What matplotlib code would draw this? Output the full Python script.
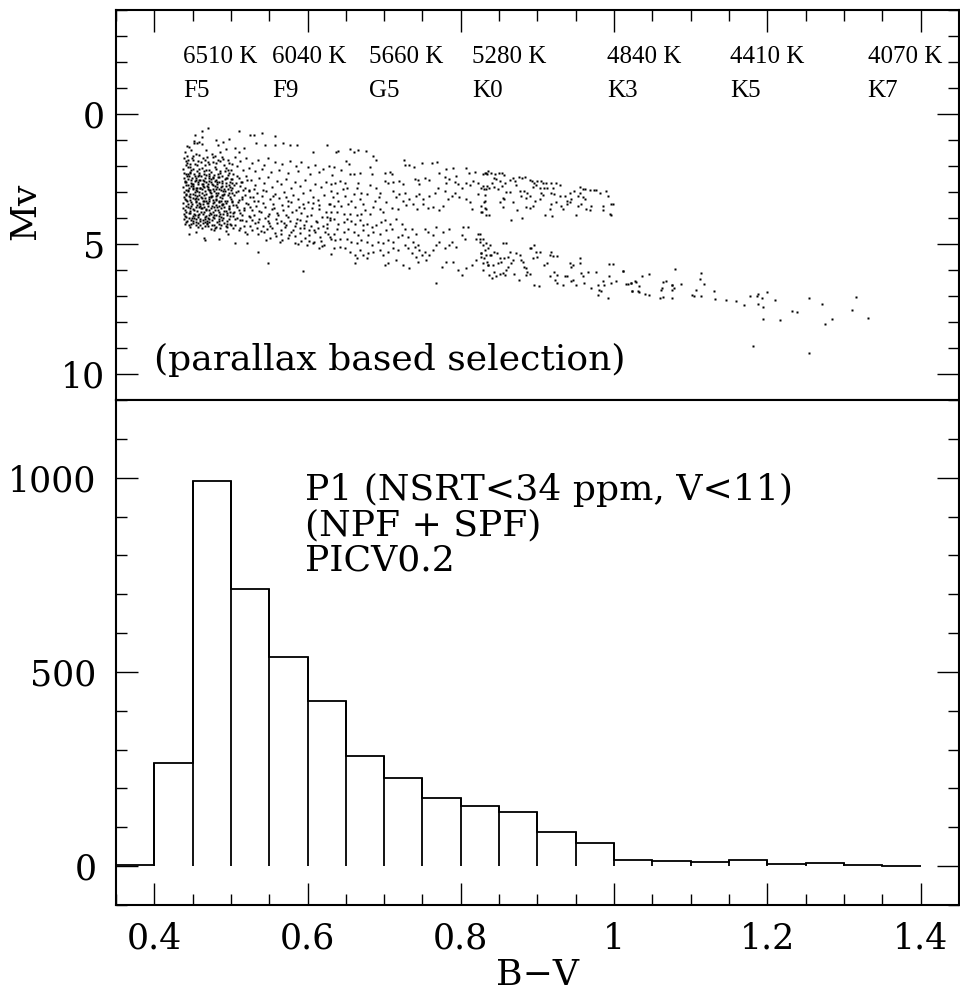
import numpy as np
import matplotlib
matplotlib.use("Agg")
import matplotlib.pyplot as plt
from matplotlib.ticker import MultipleLocator, FuncFormatter

# ---- histogram of B-V (P1 sample) ----
bin_edges = [0.35, 0.40, 0.45, 0.50, 0.55, 0.60, 0.65, 0.70, 0.75, 0.80, 0.85,
             0.90, 0.95, 1.00, 1.05, 1.10, 1.15, 1.20, 1.25, 1.30, 1.35, 1.40]
counts = [3, 265, 992, 714, 539, 425, 283, 227, 175, 155, 139,
          88, 59, 15, 14, 11, 15, 5, 7, 4, 1]

# ---- spectral type / temperature labels along the top ----
spt_bv = [0.438, 0.554, 0.680, 0.815, 0.991, 1.151, 1.331]
spt_temp = ["6510 K", "6040 K", "5660 K", "5280 K", "4840 K", "4410 K", "4070 K"]
spt_name = ["F5", "F9", "G5", "K0", "K3", "K5", "K7"]

# ---- HR diagram points (B-V, Mv) ----
top_sparse = [(0.452, 1.02), (0.462, 0.88), (0.470, 0.55), (0.445, 1.25), (0.452, 1.10),
              (0.456, 1.12), (0.462, 1.14), (0.443, 1.24), (0.480, 1.00), (0.483, 1.18),
              (0.490, 1.08), (0.498, 0.98), (0.440, 1.45), (0.448, 1.40), (0.455, 1.52),
              (0.468, 1.38), (0.475, 1.52), (0.486, 1.47), (0.494, 1.35), (0.505, 1.30),
              (0.511, 1.45), (0.511, 0.65), (0.525, 0.80), (0.530, 0.80), (0.541, 0.74),
              (0.557, 0.84), (0.517, 1.31), (0.533, 1.12), (0.545, 1.18), (0.557, 1.18),
              (0.568, 1.12), (0.577, 1.18), (0.586, 1.18), (0.607, 1.46), (0.625, 1.21),
              (0.462, 0.67), (0.453, 0.80), (0.458, 1.09)]

core = [(0.439, 1.68), (0.444, 1.75), (0.450, 1.62), (0.457, 1.80), (0.463, 1.70), (0.470, 1.85),
        (0.476, 1.66), (0.483, 1.78), (0.490, 1.72), (0.497, 1.88), (0.505, 1.65), (0.512, 1.82),
        (0.520, 1.70), (0.527, 1.90), (0.535, 1.75), (0.543, 1.96), (0.549, 1.68), (0.558, 1.84),
        (0.567, 1.92), (0.577, 1.80), (0.585, 2.00), (0.592, 1.86), (0.600, 2.05), (0.610, 1.95),
        (0.620, 2.10), (0.628, 2.00), (0.441, 1.95), (0.447, 2.05), (0.453, 1.92), (0.459, 2.12),
        (0.466, 1.98), (0.472, 2.15), (0.479, 2.02), (0.486, 2.18), (0.493, 2.06), (0.500, 2.14),
        (0.508, 2.00), (0.516, 2.16), (0.524, 2.08), (0.532, 2.20), (0.540, 2.12), (0.552, 2.22),
        (0.563, 2.15), (0.575, 2.25), (0.588, 2.18), (0.603, 2.30), (0.615, 2.22), (0.632, 2.35),
        (0.439, 2.25), (0.443, 2.38), (0.446, 2.22), (0.449, 2.45), (0.452, 2.31), (0.455, 2.52),
        (0.458, 2.27), (0.461, 2.40), (0.465, 2.58), (0.468, 2.33), (0.471, 2.47), (0.474, 2.62),
        (0.478, 2.36), (0.481, 2.55), (0.485, 2.42), (0.488, 2.66), (0.492, 2.50), (0.496, 2.35),
        (0.499, 2.60), (0.440, 2.58), (0.442, 2.72), (0.445, 2.85), (0.448, 2.64), (0.451, 2.78),
        (0.454, 2.93), (0.457, 2.70), (0.460, 2.86), (0.463, 2.75), (0.466, 2.98), (0.470, 2.80),
        (0.473, 2.92), (0.476, 2.74), (0.480, 2.88), (0.483, 3.02), (0.487, 2.82), (0.490, 2.95),
        (0.494, 2.78), (0.498, 3.05), (0.439, 3.00), (0.441, 3.12), (0.444, 2.96), (0.447, 3.20),
        (0.450, 3.06), (0.453, 3.28), (0.456, 3.14), (0.459, 3.00), (0.462, 3.24), (0.465, 3.10),
        (0.468, 3.35), (0.471, 3.18), (0.474, 3.04), (0.477, 3.30), (0.481, 3.15), (0.484, 3.40),
        (0.488, 3.22), (0.491, 3.08), (0.495, 3.33), (0.499, 3.18), (0.438, 3.42), (0.441, 3.55),
        (0.443, 3.36), (0.446, 3.62), (0.449, 3.48), (0.452, 3.70), (0.455, 3.40), (0.458, 3.58),
        (0.461, 3.75), (0.464, 3.46), (0.467, 3.64), (0.470, 3.52), (0.473, 3.80), (0.476, 3.44),
        (0.479, 3.68), (0.482, 3.56), (0.486, 3.84), (0.489, 3.50), (0.493, 3.72), (0.497, 3.60),
        (0.439, 3.86), (0.442, 3.98), (0.445, 3.80), (0.448, 4.06), (0.451, 3.92), (0.454, 4.15),
        (0.457, 3.88), (0.460, 4.02), (0.463, 4.20), (0.466, 3.95), (0.469, 4.10), (0.472, 3.90),
        (0.475, 4.25), (0.478, 4.00), (0.482, 4.15), (0.485, 3.94), (0.489, 4.08), (0.493, 4.30),
        (0.497, 4.02), (0.440, 4.22), (0.447, 4.35), (0.455, 4.28), (0.462, 4.40), (0.470, 4.32),
        (0.478, 4.45), (0.486, 4.38), (0.494, 4.50), (0.444, 2.50), (0.450, 2.90), (0.456, 3.50),
        (0.462, 3.05), (0.468, 2.62), (0.474, 3.62), (0.480, 3.25), (0.446, 3.30), (0.452, 4.00),
        (0.458, 2.55), (0.464, 3.85), (0.470, 2.68), (0.476, 3.95), (0.482, 2.70), (0.488, 3.45),
        (0.440, 3.70), (0.448, 2.78), (0.454, 3.22), (0.460, 3.45), (0.466, 4.30), (0.472, 3.28),
        (0.478, 2.95), (0.484, 3.75), (0.490, 3.85), (0.496, 2.88), (0.443, 4.10), (0.457, 4.33),
        (0.471, 4.05), (0.485, 4.22), (0.499, 3.92)]

core_extra = [(0.438, 2.10), (0.441, 2.32), (0.444, 2.05), (0.447, 2.28), (0.450, 2.12), (0.453, 2.40),
              (0.456, 2.18), (0.459, 2.35), (0.462, 2.08), (0.465, 2.30), (0.468, 2.15), (0.471, 2.38),
              (0.474, 2.22), (0.477, 2.48), (0.480, 2.12), (0.483, 2.30), (0.486, 2.25), (0.489, 2.40),
              (0.492, 2.20), (0.495, 2.45), (0.498, 2.28), (0.502, 2.50), (0.439, 2.48), (0.442, 2.62),
              (0.445, 2.40), (0.448, 2.55), (0.451, 2.68), (0.454, 2.45), (0.457, 2.62), (0.460, 2.52),
              (0.463, 2.68), (0.466, 2.48), (0.469, 2.76), (0.472, 2.56), (0.475, 2.70), (0.479, 2.58),
              (0.482, 2.82), (0.485, 2.60), (0.489, 2.76), (0.493, 2.64), (0.497, 2.72), (0.501, 2.66),
              (0.438, 2.80), (0.441, 2.92), (0.444, 2.74), (0.447, 3.08), (0.450, 2.84), (0.453, 3.00),
              (0.456, 2.86), (0.459, 3.10), (0.462, 2.90), (0.465, 2.82), (0.468, 3.06), (0.471, 2.94),
              (0.474, 3.14), (0.477, 2.88), (0.481, 3.02), (0.484, 2.90), (0.488, 3.12), (0.492, 2.98),
              (0.496, 3.10), (0.500, 2.94), (0.439, 3.20), (0.442, 3.32), (0.445, 3.14), (0.448, 3.40),
              (0.451, 3.24), (0.454, 3.36), (0.457, 3.26), (0.460, 3.52), (0.463, 3.34), (0.466, 3.22),
              (0.469, 3.44), (0.472, 3.36), (0.475, 3.54), (0.478, 3.40), (0.481, 3.30), (0.484, 3.52),
              (0.487, 3.34), (0.490, 3.48), (0.494, 3.42), (0.498, 3.52), (0.502, 3.40), (0.438, 3.62),
              (0.441, 3.76), (0.444, 3.58), (0.447, 3.82), (0.450, 3.66), (0.453, 3.88), (0.456, 3.72),
              (0.459, 3.84), (0.462, 3.60), (0.465, 3.78), (0.468, 3.92), (0.471, 3.70), (0.474, 3.86),
              (0.477, 3.76), (0.480, 3.90), (0.483, 3.68), (0.487, 3.96), (0.491, 3.74), (0.495, 3.88),
              (0.499, 3.76), (0.503, 3.94), (0.439, 4.04), (0.442, 4.16), (0.445, 4.00), (0.448, 4.22),
              (0.451, 4.10), (0.454, 4.02), (0.457, 4.18), (0.460, 4.26), (0.463, 4.08), (0.466, 4.14),
              (0.469, 4.24), (0.472, 4.16), (0.475, 4.06), (0.478, 4.28), (0.481, 4.34), (0.484, 4.10),
              (0.487, 4.26), (0.491, 4.18), (0.495, 4.36), (0.499, 4.22), (0.503, 4.40), (0.441, 1.80),
              (0.446, 1.92), (0.451, 1.78), (0.456, 1.95), (0.461, 1.84), (0.466, 1.76), (0.471, 1.94),
              (0.476, 1.86), (0.481, 1.90), (0.486, 1.82), (0.491, 1.96), (0.496, 1.78), (0.501, 1.92),
              (0.443, 1.62), (0.449, 1.70), (0.459, 1.58), (0.469, 1.66), (0.479, 1.60), (0.489, 1.64),
              (0.445, 4.60), (0.455, 4.55), (0.465, 4.75), (0.466, 4.85), (0.485, 4.80), (0.496, 4.62),
              (0.505, 4.95), (0.521, 4.98), (0.535, 5.30), (0.549, 5.74), (0.594, 6.03)]

core_fill = [(0.4395, 2.63), (0.4435, 3.47), (0.4475, 2.17), (0.4515, 3.83), (0.4555, 2.97), (0.4595, 4.11),
             (0.4635, 2.53), (0.4675, 3.69), (0.4715, 2.29), (0.4755, 3.17), (0.4795, 4.39), (0.4835, 2.41),
             (0.4875, 3.63), (0.4915, 2.87), (0.4955, 4.13), (0.4995, 3.27), (0.5035, 2.73), (0.5075, 3.57),
             (0.5115, 4.07), (0.5155, 2.93), (0.4405, 3.91), (0.4445, 2.31), (0.4485, 3.53), (0.4525, 2.57),
             (0.4565, 3.97), (0.4605, 3.21), (0.4645, 2.19), (0.4685, 4.21), (0.4725, 3.01), (0.4765, 2.43),
             (0.4805, 3.49), (0.4845, 4.03), (0.4885, 2.57), (0.4925, 3.35), (0.4965, 2.17), (0.5005, 4.27),
             (0.5045, 3.13), (0.5085, 2.39), (0.5125, 3.81), (0.5165, 4.31), (0.4415, 3.09), (0.4455, 4.27),
             (0.4495, 2.69), (0.4535, 3.13), (0.4575, 2.39), (0.4615, 3.63), (0.4655, 3.33), (0.4695, 2.87),
             (0.4735, 4.41), (0.4775, 3.57), (0.4815, 2.61), (0.4855, 3.19), (0.4895, 4.01), (0.4935, 2.47),
             (0.4975, 3.67), (0.5015, 3.03), (0.5055, 4.05), (0.5095, 3.37), (0.5135, 2.61), (0.5175, 3.71),
             (0.4425, 1.87), (0.4465, 3.73), (0.4505, 4.19), (0.4545, 2.83), (0.4585, 3.41), (0.4625, 2.71),
             (0.4665, 4.03), (0.4705, 3.43), (0.4745, 2.51), (0.4785, 3.87), (0.4825, 3.11), (0.4865, 2.93),
             (0.4905, 3.57), (0.4945, 4.23), (0.4985, 2.79), (0.5025, 3.51), (0.5065, 2.67), (0.5105, 4.45),
             (0.5145, 3.27), (0.5185, 2.85), (0.4395, 3.27), (0.4445, 2.91), (0.4495, 3.99), (0.4545, 3.59),
             (0.4595, 2.83), (0.4645, 3.57), (0.4695, 3.99), (0.4745, 3.21), (0.4795, 2.77), (0.4845, 3.33),
             (0.4895, 3.11), (0.4945, 3.79), (0.4995, 2.49), (0.5045, 3.77), (0.5095, 2.97), (0.5145, 4.09),
             (0.5195, 3.43), (0.5215, 2.55), (0.5235, 3.93), (0.5255, 3.19)]

band = [(0.503, 2.30), (0.510, 2.45), (0.515, 2.62), (0.520, 2.38), (0.526, 2.55), (0.531, 2.72),
        (0.537, 2.48), (0.543, 2.66), (0.548, 2.42), (0.554, 2.80), (0.560, 2.58), (0.566, 2.70),
        (0.572, 2.50), (0.578, 2.85), (0.584, 2.62), (0.590, 2.78), (0.597, 2.55), (0.603, 2.92),
        (0.610, 2.68), (0.617, 2.82), (0.624, 2.60), (0.630, 2.95), (0.502, 2.85), (0.507, 3.00),
        (0.512, 2.78), (0.518, 3.12), (0.523, 2.94), (0.529, 3.20), (0.534, 3.02), (0.540, 3.15),
        (0.546, 2.98), (0.551, 3.28), (0.557, 3.08), (0.563, 3.22), (0.569, 3.00), (0.575, 3.35),
        (0.581, 3.12), (0.588, 3.28), (0.594, 3.05), (0.600, 3.40), (0.607, 3.18), (0.614, 3.32),
        (0.621, 3.10), (0.628, 3.45), (0.501, 3.35), (0.506, 3.50), (0.511, 3.30), (0.517, 3.62),
        (0.522, 3.45), (0.528, 3.70), (0.533, 3.52), (0.539, 3.78), (0.545, 3.58), (0.550, 3.85),
        (0.556, 3.62), (0.562, 3.90), (0.568, 3.70), (0.574, 3.98), (0.580, 3.75), (0.586, 4.02),
        (0.592, 3.82), (0.598, 4.10), (0.605, 3.88), (0.612, 4.15), (0.619, 3.95), (0.626, 4.22),
        (0.503, 3.82), (0.508, 4.00), (0.514, 3.88), (0.520, 4.12), (0.525, 3.95), (0.531, 4.20),
        (0.537, 4.05), (0.542, 4.30), (0.548, 4.12), (0.554, 4.38), (0.560, 4.18), (0.566, 4.45),
        (0.572, 4.25), (0.578, 4.52), (0.584, 4.32), (0.590, 4.58), (0.596, 4.40), (0.602, 4.65),
        (0.609, 4.48), (0.616, 4.72), (0.623, 4.55), (0.630, 4.80), (0.505, 4.25), (0.512, 4.40),
        (0.519, 4.55), (0.527, 4.45), (0.535, 4.62), (0.543, 4.55), (0.551, 4.75), (0.559, 4.68),
        (0.567, 4.85), (0.575, 4.78), (0.583, 4.95), (0.591, 4.88), (0.599, 5.05), (0.607, 4.98),
        (0.615, 5.15), (0.622, 5.05), (0.515, 3.20), (0.535, 3.35), (0.555, 3.45), (0.575, 3.55),
        (0.595, 3.60), (0.615, 3.65), (0.525, 4.30), (0.545, 4.00), (0.565, 4.12), (0.585, 4.20),
        (0.605, 4.30), (0.625, 4.40), (0.510, 3.70), (0.530, 3.90), (0.550, 4.20), (0.570, 4.35),
        (0.590, 4.40), (0.610, 4.55)]

band_fill = [(0.5215, 4.61), (0.5245, 3.57), (0.5275, 4.07), (0.5305, 2.87), (0.5335, 4.39), (0.5365, 3.73),
             (0.5395, 4.49), (0.5425, 3.41), (0.5455, 4.83), (0.5485, 3.93), (0.5515, 4.29), (0.5545, 3.17),
             (0.5575, 4.57), (0.5605, 3.79), (0.5635, 4.93), (0.5665, 3.51), (0.5695, 4.21), (0.5725, 3.87),
             (0.5755, 4.67), (0.5785, 3.39), (0.5815, 4.45), (0.5845, 3.69), (0.5875, 5.01), (0.5905, 4.09),
             (0.5935, 3.47), (0.5965, 4.77), (0.5995, 3.93), (0.6025, 4.47), (0.6055, 3.61), (0.6085, 4.93),
             (0.6115, 4.11), (0.6145, 3.49), (0.6175, 4.87), (0.6205, 4.29), (0.6235, 3.77), (0.6265, 4.63),
             (0.6295, 4.01), (0.5235, 2.97), (0.5295, 3.33), (0.5355, 4.17), (0.5415, 2.91), (0.5475, 4.41),
             (0.5535, 3.67), (0.5595, 4.03), (0.5655, 4.61), (0.5715, 3.19), (0.5775, 4.11), (0.5835, 4.71),
             (0.5895, 3.57), (0.5955, 4.27), (0.6015, 4.87), (0.6075, 3.41), (0.6135, 4.39), (0.6195, 5.07),
             (0.6255, 3.97)]

mid_upper = [(0.637, 1.47), (0.640, 1.43), (0.656, 1.34), (0.660, 1.47), (0.666, 1.37), (0.676, 1.43),
             (0.686, 1.60), (0.690, 1.75), (0.650, 1.81), (0.654, 1.91), (0.634, 2.03), (0.644, 2.15),
             (0.726, 1.77), (0.727, 1.98), (0.733, 1.98), (0.739, 2.03), (0.750, 1.90), (0.762, 1.88),
             (0.769, 1.85), (0.781, 2.10), (0.790, 2.09), (0.807, 2.07), (0.811, 2.28), (0.819, 2.23),
             (0.829, 2.32), (0.833, 2.26), (0.836, 2.19), (0.655, 2.32), (0.660, 2.29), (0.668, 2.26),
             (0.681, 2.04), (0.684, 2.32), (0.701, 2.26), (0.707, 2.23), (0.710, 2.32), (0.701, 2.57),
             (0.705, 2.64), (0.711, 2.61), (0.720, 2.57), (0.724, 2.70), (0.740, 2.51), (0.744, 2.53),
             (0.746, 2.70), (0.753, 2.48), (0.759, 2.53), (0.772, 2.28), (0.779, 2.41), (0.781, 2.64),
             (0.785, 2.51), (0.792, 2.61), (0.794, 2.38), (0.796, 2.70), (0.801, 2.86), (0.807, 2.64),
             (0.812, 2.74), (0.816, 2.57), (0.822, 2.64), (0.827, 2.86), (0.830, 2.89), (0.834, 2.76),
             (0.642, 2.57), (0.649, 2.64), (0.636, 2.64), (0.630, 2.70), (0.646, 2.89), (0.652, 2.83),
             (0.666, 2.64), (0.665, 2.86), (0.681, 2.74), (0.690, 2.86), (0.694, 3.02), (0.693, 3.21),
             (0.677, 3.08), (0.670, 3.02), (0.668, 3.27), (0.660, 3.08), (0.657, 3.33), (0.649, 3.14),
             (0.638, 3.02), (0.633, 3.21), (0.640, 3.33), (0.629, 3.46), (0.634, 3.55), (0.644, 3.52),
             (0.653, 3.46), (0.662, 3.59), (0.673, 3.46), (0.675, 3.71), (0.686, 3.59), (0.688, 3.33),
             (0.703, 3.40), (0.712, 2.95), (0.716, 3.21), (0.720, 3.08), (0.727, 3.02), (0.733, 3.27),
             (0.741, 3.14), (0.746, 3.08), (0.751, 3.27), (0.759, 3.14), (0.766, 3.02), (0.770, 2.86),
             (0.779, 2.95), (0.783, 3.27), (0.788, 3.14), (0.792, 3.02), (0.798, 3.21), (0.807, 3.27),
             (0.812, 3.40), (0.814, 3.65), (0.822, 3.08), (0.831, 3.33), (0.833, 3.65), (0.827, 3.78),
             (0.777, 3.52), (0.772, 3.71), (0.764, 3.59), (0.757, 3.62), (0.751, 3.46), (0.743, 3.65),
             (0.738, 3.46), (0.729, 3.50), (0.725, 3.33), (0.718, 3.65), (0.710, 3.62), (0.699, 3.78),
             (0.694, 3.65), (0.681, 3.84), (0.670, 3.84), (0.664, 3.90), (0.655, 3.84), (0.647, 3.84),
             (0.638, 3.78), (0.631, 3.78)]

mid_lower = [(0.629, 4.09), (0.634, 4.03), (0.640, 4.22), (0.647, 4.16), (0.651, 4.03), (0.657, 4.13),
             (0.662, 4.22), (0.668, 4.09), (0.673, 4.28), (0.677, 4.22), (0.684, 4.35), (0.690, 4.28),
             (0.696, 4.16), (0.701, 4.09), (0.707, 4.22), (0.716, 4.03), (0.723, 4.22), (0.727, 4.41),
             (0.710, 4.41), (0.703, 4.47), (0.694, 4.60), (0.686, 4.54), (0.679, 4.66), (0.673, 4.47),
             (0.666, 4.64), (0.660, 4.54), (0.653, 4.41), (0.647, 4.54), (0.638, 4.41), (0.634, 4.60),
             (0.629, 4.73), (0.636, 4.85), (0.642, 4.79), (0.651, 4.79), (0.657, 4.92), (0.664, 4.98),
             (0.670, 4.85), (0.677, 4.92), (0.684, 5.02), (0.692, 4.92), (0.699, 4.98), (0.705, 4.85),
             (0.712, 4.92), (0.718, 4.73), (0.723, 4.66), (0.731, 4.73), (0.738, 4.92), (0.740, 5.11),
             (0.744, 5.02), (0.746, 5.23), (0.753, 5.30), (0.749, 5.42), (0.742, 5.49), (0.736, 5.36),
             (0.731, 5.17), (0.727, 5.04), (0.718, 5.23), (0.712, 5.17), (0.705, 5.30), (0.699, 5.42),
             (0.694, 5.23), (0.686, 5.30), (0.679, 5.36), (0.673, 5.42), (0.668, 5.23), (0.662, 5.42),
             (0.655, 5.30), (0.649, 5.17), (0.642, 5.11), (0.634, 5.17), (0.631, 5.40), (0.664, 5.55),
             (0.677, 5.55), (0.662, 5.74), (0.701, 5.80), (0.705, 5.74), (0.716, 5.61), (0.725, 5.80),
             (0.733, 5.93), (0.744, 5.68), (0.755, 5.61), (0.759, 5.42), (0.764, 5.23), (0.768, 5.04),
             (0.772, 4.92), (0.779, 5.17), (0.785, 5.04), (0.789, 4.92), (0.794, 5.11), (0.801, 4.66),
             (0.805, 4.79), (0.809, 4.35), (0.803, 4.35), (0.822, 4.60), (0.820, 4.79), (0.825, 4.92),
             (0.829, 4.79), (0.833, 4.98), (0.835, 5.17), (0.838, 5.42), (0.827, 5.36), (0.820, 5.61),
             (0.814, 5.80), (0.807, 5.93), (0.801, 6.18), (0.796, 5.99), (0.790, 5.68), (0.781, 5.68),
             (0.775, 5.87), (0.768, 6.50), (0.829, 5.99), (0.835, 5.80), (0.785, 4.41), (0.777, 4.54),
             (0.764, 4.66), (0.757, 4.54), (0.768, 4.35), (0.753, 4.41), (0.742, 4.60), (0.736, 4.41)]

giants = [(0.832, 2.26), (0.834, 2.32), (0.840, 2.26), (0.845, 2.29), (0.850, 2.28), (0.854, 2.28),
          (0.856, 2.36), (0.843, 2.47), (0.846, 2.51), (0.851, 2.57), (0.841, 2.64), (0.858, 2.64),
          (0.864, 2.53), (0.868, 2.48), (0.871, 2.57), (0.876, 2.42), (0.880, 2.45), (0.884, 2.42),
          (0.890, 2.53), (0.893, 2.57), (0.896, 2.64), (0.899, 2.57), (0.905, 2.57), (0.907, 2.64),
          (0.911, 2.66), (0.918, 2.64), (0.924, 2.66), (0.930, 2.73), (0.894, 2.79), (0.898, 2.74),
          (0.903, 2.83), (0.909, 2.86), (0.913, 2.83), (0.920, 2.83), (0.829, 2.76), (0.833, 2.89),
          (0.837, 2.86), (0.844, 2.80), (0.848, 2.89), (0.854, 2.76), (0.859, 2.99), (0.864, 2.99),
          (0.872, 2.74), (0.877, 2.95), (0.883, 2.95), (0.887, 3.02), (0.890, 3.14), (0.885, 3.24),
          (0.879, 3.14), (0.868, 3.37), (0.855, 3.24), (0.851, 3.40), (0.857, 3.27), (0.831, 3.12),
          (0.830, 3.37), (0.827, 3.52), (0.831, 3.63), (0.828, 3.75), (0.833, 3.88), (0.837, 3.88),
          (0.855, 3.59), (0.866, 4.09), (0.880, 4.00), (0.873, 3.69), (0.885, 3.59), (0.890, 3.63),
          (0.894, 3.52), (0.897, 3.33), (0.903, 3.27), (0.905, 3.02), (0.907, 3.12), (0.918, 3.02),
          (0.922, 3.08), (0.924, 3.40), (0.918, 3.46), (0.916, 3.65), (0.910, 3.87), (0.919, 3.94),
          (0.933, 3.65), (0.936, 3.14), (0.938, 3.33), (0.944, 3.27), (0.942, 3.02), (0.948, 2.95),
          (0.955, 2.80), (0.959, 2.89), (0.962, 2.89), (0.968, 2.92), (0.974, 2.92), (0.977, 2.92),
          (0.982, 3.02), (0.989, 2.95), (0.992, 3.14), (0.955, 3.02), (0.953, 3.17), (0.959, 3.21),
          (0.962, 3.27), (0.957, 3.46), (0.953, 3.55), (0.951, 3.90), (0.963, 3.65), (0.970, 3.52),
          (0.969, 3.68), (0.986, 3.55), (0.985, 3.71), (0.996, 3.46), (0.999, 3.46), (0.995, 3.84),
          (0.996, 3.87), (0.929, 3.14), (0.931, 3.52), (0.938, 3.46), (0.943, 3.37)]

k_dwarfs = [(0.825, 4.60), (0.825, 4.79), (0.829, 5.05), (0.831, 5.24), (0.827, 5.36), (0.826, 5.49),
            (0.830, 5.55), (0.833, 5.43), (0.834, 5.68), (0.829, 5.74), (0.835, 5.80), (0.840, 5.43),
            (0.838, 5.05), (0.844, 5.30), (0.847, 5.36), (0.842, 5.80), (0.848, 5.74), (0.851, 5.55),
            (0.853, 5.68), (0.855, 4.98), (0.859, 4.96), (0.856, 5.55), (0.861, 5.49), (0.864, 5.30),
            (0.866, 5.74), (0.868, 5.61), (0.861, 5.87), (0.859, 5.99), (0.851, 6.16), (0.855, 6.12),
            (0.858, 6.18), (0.844, 6.08), (0.846, 6.25), (0.841, 6.31), (0.837, 6.18), (0.870, 6.15),
            (0.872, 5.36), (0.877, 5.43), (0.879, 5.61), (0.881, 5.68), (0.883, 5.87), (0.885, 5.93),
            (0.887, 6.08), (0.890, 6.16), (0.885, 6.18), (0.876, 6.37), (0.890, 5.15), (0.892, 5.17),
            (0.896, 5.05), (0.898, 5.30), (0.903, 5.30), (0.900, 5.49), (0.894, 5.55), (0.896, 6.57),
            (0.902, 6.63), (0.909, 5.80), (0.913, 5.74), (0.916, 5.43), (0.921, 5.45), (0.926, 5.45),
            (0.918, 5.30), (0.916, 6.25), (0.922, 6.06), (0.925, 6.18), (0.923, 6.37), (0.926, 6.50),
            (0.933, 6.57), (0.936, 6.25), (0.939, 6.25), (0.942, 5.74), (0.944, 5.87), (0.946, 5.80),
            (0.944, 6.44), (0.947, 6.37), (0.950, 6.57), (0.955, 5.55), (0.955, 5.74), (0.957, 6.12),
            (0.959, 6.25), (0.961, 6.50), (0.966, 6.06), (0.976, 6.08), (0.970, 6.69), (0.979, 6.57),
            (0.981, 6.76), (0.983, 6.82), (0.985, 6.44), (0.987, 6.57), (0.992, 7.07), (0.994, 6.25),
            (0.996, 6.50), (0.998, 5.78), (1.002, 6.41), (0.994, 5.78), (1.012, 6.03), (1.018, 6.54),
            (1.022, 6.50), (1.023, 6.82), (1.028, 6.44), (1.031, 6.82), (0.979, 6.95)]

red_tail = [(1.012, 6.02), (1.016, 6.54), (1.022, 6.49), (1.029, 6.45), (1.032, 6.62), (1.023, 6.82),
            (1.032, 6.83), (1.037, 6.24), (1.046, 6.17), (1.040, 6.92), (1.045, 6.95), (1.080, 5.96),
            (1.064, 6.48), (1.068, 6.43), (1.062, 6.69), (1.061, 6.76), (1.075, 6.58), (1.076, 6.59),
            (1.078, 6.70), (1.075, 6.77), (1.060, 7.08), (1.064, 7.03), (1.076, 7.07), (1.087, 6.53),
            (1.113, 6.11), (1.112, 6.34), (1.117, 6.53), (1.107, 6.76), (1.102, 6.98), (1.105, 7.01),
            (1.113, 7.01), (1.130, 6.82), (1.132, 7.11), (1.146, 7.16), (1.159, 7.19), (1.169, 7.33),
            (1.177, 7.01), (1.187, 7.01), (1.188, 6.93), (1.193, 7.08), (1.200, 6.83), (1.188, 7.29),
            (1.195, 7.43), (1.210, 7.16), (1.194, 7.90), (1.217, 7.91), (1.232, 7.57), (1.239, 7.60),
            (1.255, 7.07), (1.271, 7.29), (1.275, 8.07), (1.285, 7.87), (1.311, 7.54), (1.316, 7.05),
            (1.332, 7.83), (1.182, 8.94), (1.255, 9.19)]

all_points = (top_sparse + core + core_extra + core_fill + band + band_fill
              + mid_upper + mid_lower + giants + k_dwarfs + red_tail)
star_bv = [p[0] for p in all_points]
star_mv = [p[1] for p in all_points]

plt.rcParams['font.family'] = ['DejaVu Serif']

fig = plt.figure(figsize=(9.6, 9.93), dpi=100)
ax1 = fig.add_axes([0.1208, 0.5972, 0.878, 0.3927])
ax2 = fig.add_axes([0.1208, 0.0886, 0.878, 0.5086])

# top panel: HR diagram
ax1.plot(star_bv, star_mv, 's', ms=1.7, mfc='k', mec='none')
ax1.set_xlim(0.35, 1.45)
ax1.set_ylim(11, -4)
ax1.yaxis.set_major_locator(MultipleLocator(5))
ax1.yaxis.set_minor_locator(MultipleLocator(1))
for x, t, s in zip(spt_bv, spt_temp, spt_name):
    ax1.text(x, -2.2, t, fontsize=18, family='Liberation Serif', ha='left', va='center')
    ax1.text(x, -0.9, s, fontsize=18, family='Liberation Serif', ha='left', va='center')
ax1.text(0.399, 9.47, "(parallax based selection)", fontsize=26, ha='left', va='center')

# bottom panel: histogram
edges = np.array(bin_edges)
vals = np.array(counts)
ax2.stairs(vals, edges, baseline=None, color='k', lw=1.3)
edge_h = np.maximum(np.r_[0, vals], np.r_[vals, 0])
ax2.vlines(edges, 0, edge_h, color='k', lw=1.3)
ax2.set_xlim(0.35, 1.45)
ax2.set_ylim(-100, 1200)
ax2.yaxis.set_major_locator(MultipleLocator(500))
ax2.yaxis.set_minor_locator(MultipleLocator(100))
ax2.text(0.597, 968, "P1 (NSRT<34 ppm, V<11)", fontsize=26, ha='left', va='center')
ax2.text(0.597, 878, "(NPF + SPF)", fontsize=26, ha='left', va='center')
ax2.text(0.597, 788, "PICV0.2", fontsize=26, ha='left', va='center')

for ax in (ax1, ax2):
    ax.xaxis.set_major_locator(MultipleLocator(0.2))
    ax.xaxis.set_minor_locator(MultipleLocator(0.05))
    ax.xaxis.set_major_formatter(FuncFormatter(lambda v, p: f"{v:g}"))
    ax.tick_params(which='both', direction='in', left=True, right=True, width=1.0, labelsize=25)
    ax.tick_params(which='major', length=16)
    ax.tick_params(which='minor', length=8)
    for sp in ax.spines.values():
        sp.set_linewidth(1.5)

ax1.tick_params(axis='x', which='both', top=True, bottom=False, labelbottom=False)
ax2.tick_params(axis='x', which='both', top=False, bottom=True, pad=12)
ax1.tick_params(axis='y', pad=8)
ax2.tick_params(axis='y', pad=14)

fig.text(25 / 960, 1 - 211 / 993, "Mv", rotation=90, fontsize=26, ha='center', va='center')
fig.text(538 / 960, 1 - 975 / 993, "B\u2212V", fontsize=26, ha='center', va='center')

fig.savefig("out.png", dpi=100)
